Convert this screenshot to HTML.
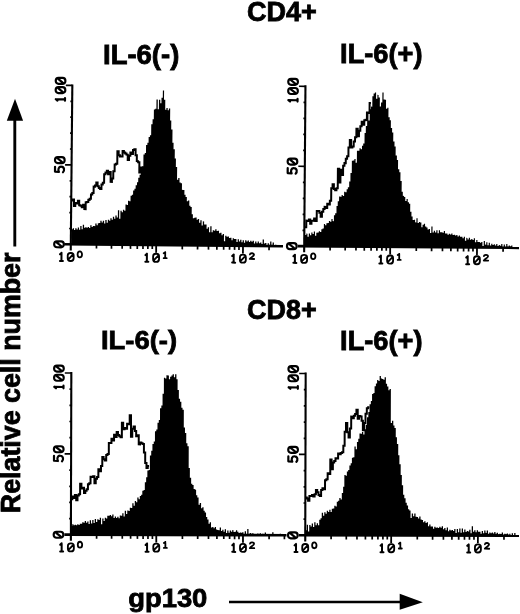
<!DOCTYPE html>
<html><head><meta charset="utf-8"><style>
html,body{margin:0;padding:0;background:#fff;}
body{width:520px;height:614px;overflow:hidden;position:relative;}
svg{position:absolute;left:0;top:0;filter:grayscale(1);}
.t{font-family:"Liberation Sans", sans-serif;font-weight:bold;font-size:26.4px;fill:#000;stroke:#000;stroke-width:0.8px;}
</style></head><body>
<svg width="520" height="614" viewBox="0 0 520 614">
<rect width="520" height="614" fill="#fff"/>
<text class="t" transform="translate(246.98,20.92) scale(1.0235,1.03)">CD4+</text>
<text class="t" transform="translate(103.03,63.87) scale(1.0409,1.015)">IL-6(-)</text>
<text class="t" transform="translate(340.09,62.91) scale(1.0308,1.015)">IL-6(+)</text>
<text class="t" transform="translate(247.01,318.85) scale(1.0208,1.03)">CD8+</text>
<text class="t" transform="translate(100.95,349.07) scale(1.0379,0.985)">IL-6(-)</text>
<text class="t" transform="translate(340.11,349.99) scale(1.0303,1.03)">IL-6(+)</text>
<text class="t" transform="translate(128.18,606.84) scale(1.0381,0.985)">gp130</text>
<text class="t" transform="translate(20.45,513.2) rotate(-90) scale(1.0156,1.044)">Relative cell number</text>
<line x1="14.8" y1="118" x2="14.8" y2="246.5" stroke="#000" stroke-width="2.9"/>
<path d="M15,98.7 L6.8,120.7 L23.1,120.7 Z" fill="#000"/>
<line x1="229" y1="602" x2="402" y2="602" stroke="#000" stroke-width="2.5"/>
<path d="M422.8,602.3 L399.7,593.8 L399.7,609.8 Z" fill="#000"/>
<g transform="rotate(0.55 70.8 244.4)"><path d="M71.4,244.4 L71.4,229.3 H72.6 V228.2 H73.9 V229.9 H75.1 V228.1 H76.4 V229.4 H77.6 V227.4 H78.9 V229.6 H80.1 V225.9 H81.4 V229.2 H82.6 V224.7 H83.9 V227.5 H85.1 V227.1 H86.4 V227.7 H87.6 V226.8 H88.9 V227.8 H90.1 V225.0 H91.4 V226.7 H92.6 V225.7 H93.9 V225.9 H95.1 V223.3 H96.4 V225.1 H97.6 V223.0 H98.9 V222.8 H100.1 V220.5 H101.4 V222.1 H102.6 V220.4 H103.9 V223.2 H105.1 V219.6 H106.4 V222.3 H107.6 V219.4 H108.9 V220.3 H110.1 V217.9 H111.4 V219.3 H112.6 V216.3 H113.9 V218.3 H115.1 V215.0 H116.4 V217.1 H117.6 V209.8 H118.9 V218.3 H120.1 V210.2 H121.4 V211.8 H122.6 V209.2 H123.9 V210.3 H125.1 V204.0 H126.4 V204.5 H127.6 V200.3 H128.9 V200.7 H130.1 V195.1 H131.4 V194.1 H132.6 V189.9 H133.9 V188.2 H135.1 V184.6 H136.4 V181.6 H137.6 V177.1 H138.9 V174.0 H140.1 V168.5 H141.4 V165.5 H142.6 V153.9 H143.9 V152.2 H145.1 V144.3 H146.4 V141.9 H147.6 V136.3 H148.9 V134.5 H150.1 V123.5 H151.4 V118.4 H152.6 V108.7 H153.9 V108.0 H155.1 V98.7 H156.4 V108.3 H157.6 V98.8 H158.9 V102.3 H160.1 V96.8 H161.4 V89.5 H162.6 V98.9 H163.9 V108.8 H165.1 V107.0 H166.4 V109.4 H167.6 V107.5 H168.9 V119.6 H170.1 V128.6 H171.4 V141.7 H172.6 V148.3 H173.9 V157.6 H175.1 V166.0 H176.4 V178.8 H177.6 V177.0 H178.9 V181.4 H180.1 V182.1 H181.4 V188.8 H182.6 V188.8 H183.9 V193.6 H185.1 V196.0 H186.4 V200.1 H187.6 V199.3 H188.9 V204.5 H190.1 V205.9 H191.4 V213.2 H192.6 V217.1 H193.9 V216.5 H195.1 V216.4 H196.4 V218.5 H197.6 V217.8 H198.9 V221.6 H200.1 V219.0 H201.4 V224.3 H202.6 V220.1 H203.9 V223.1 H205.1 V223.3 H206.4 V227.4 H207.6 V225.9 H208.9 V230.8 H210.1 V224.8 H211.4 V230.9 H212.6 V228.8 H213.9 V229.3 H215.1 V227.8 H216.4 V229.7 H217.6 V229.3 H218.9 V231.9 H220.1 V231.2 H221.4 V233.8 H222.6 V232.6 H223.9 V239.7 H225.1 V234.2 H226.4 V235.3 H227.6 V235.1 H228.9 V236.4 H230.1 V236.1 H231.4 V238.8 H232.6 V236.8 H233.9 V237.4 H235.1 V237.3 H236.4 V240.4 H237.6 V237.7 H238.9 V239.9 H240.1 V238.1 H241.4 V240.7 H242.6 V238.6 H243.9 V241.2 H245.1 V238.6 H246.4 V239.8 H247.6 V238.8 H248.9 V240.3 H250.1 V239.1 H251.4 V240.1 H252.6 V239.1 H253.9 V241.8 H255.1 V239.8 H256.4 V241.5 H257.6 V239.8 H258.9 V241.4 H260.1 V240.6 H261.4 V242.1 H262.6 V237.7 H263.9 V241.7 H265.1 V241.1 H266.4 V243.3 H267.6 V241.3 H268.9 V242.8 H270.1 V239.5 H271.4 V242.8 H272.6 V240.5 H273.9 V243.5 H275.1 V242.8 H276.4 V244.4 Z" fill="#000"/><path d="M71.1,200.5 H72.3 V199.5 H73.6 V205.9 H74.9 V202.9 H76.2 V203.3 H77.5 V200.7 H78.8 V205.1 H80.1 V205.7 H81.4 V207.1 H82.7 V204.6 H84.0 V209.0 H85.3 V202.0 H86.6 V201.8 H87.9 V199.7 H89.2 V198.6 H90.5 V194.3 H91.8 V192.8 H93.1 V186.4 H94.4 V185.2 H95.7 V182.2 H97.0 V185.9 H98.3 V187.7 H99.6 V188.7 H100.9 V184.1 H102.2 V182.5 H103.5 V174.0 H104.8 V172.3 H106.1 V170.4 H107.4 V173.9 H108.7 V171.5 H110.0 V181.5 H111.3 V178.1 H112.6 V170.8 H113.9 V164.1 H115.2 V163.3 H116.5 V150.9 H117.8 V154.7 H119.1 V156.1 H120.4 V156.0 H121.7 V150.4 H123.0 V151.9 H124.3 V152.9 H125.6 V154.1 H126.9 V159.5 H128.2 V155.2 H129.5 V151.9 H130.8 V153.5 H132.1 V149.5 H133.4 V148.7 H134.7 V154.6 H136.0 V160.5 H137.3 V161.7 H138.6 V171.8 H139.9 V166.9 H141.2 V170.5 H142.5" fill="none" stroke="#000" stroke-width="2.0"/><line x1="70.8" y1="84.4" x2="70.8" y2="250.4" stroke="#000" stroke-width="2.1"/><line x1="64.3" y1="244.25" x2="283" y2="244.25" stroke="#000" stroke-width="2.6"/><line x1="69.0" y1="228.5" x2="70.8" y2="228.5" stroke="#000" stroke-width="1.7"/><line x1="69.0" y1="212.6" x2="70.8" y2="212.6" stroke="#000" stroke-width="1.7"/><line x1="69.0" y1="196.7" x2="70.8" y2="196.7" stroke="#000" stroke-width="1.7"/><line x1="69.0" y1="180.8" x2="70.8" y2="180.8" stroke="#000" stroke-width="1.7"/><line x1="64.3" y1="164.9" x2="70.8" y2="164.9" stroke="#000" stroke-width="1.7"/><line x1="69.0" y1="149.0" x2="70.8" y2="149.0" stroke="#000" stroke-width="1.7"/><line x1="69.0" y1="133.1" x2="70.8" y2="133.1" stroke="#000" stroke-width="1.7"/><line x1="69.0" y1="117.2" x2="70.8" y2="117.2" stroke="#000" stroke-width="1.7"/><line x1="69.0" y1="101.3" x2="70.8" y2="101.3" stroke="#000" stroke-width="1.7"/><line x1="64.3" y1="85.4" x2="70.8" y2="85.4" stroke="#000" stroke-width="1.7"/><line x1="96.5" y1="244.4" x2="96.5" y2="248.3" stroke="#000" stroke-width="1.7"/><line x1="111.5" y1="244.4" x2="111.5" y2="248.3" stroke="#000" stroke-width="1.7"/><line x1="122.2" y1="244.4" x2="122.2" y2="248.3" stroke="#000" stroke-width="1.7"/><line x1="130.5" y1="244.4" x2="130.5" y2="248.3" stroke="#000" stroke-width="1.7"/><line x1="137.3" y1="244.4" x2="137.3" y2="248.3" stroke="#000" stroke-width="1.7"/><line x1="143.0" y1="244.4" x2="143.0" y2="248.3" stroke="#000" stroke-width="1.7"/><line x1="147.9" y1="244.4" x2="147.9" y2="248.3" stroke="#000" stroke-width="1.7"/><line x1="152.3" y1="244.4" x2="152.3" y2="248.3" stroke="#000" stroke-width="1.7"/><line x1="156.2" y1="244.4" x2="156.2" y2="251.9" stroke="#000" stroke-width="1.8"/><line x1="182.3" y1="244.4" x2="182.3" y2="248.3" stroke="#000" stroke-width="1.7"/><line x1="197.6" y1="244.4" x2="197.6" y2="248.3" stroke="#000" stroke-width="1.7"/><line x1="208.5" y1="244.4" x2="208.5" y2="248.3" stroke="#000" stroke-width="1.7"/><line x1="216.9" y1="244.4" x2="216.9" y2="248.3" stroke="#000" stroke-width="1.7"/><line x1="223.7" y1="244.4" x2="223.7" y2="248.3" stroke="#000" stroke-width="1.7"/><line x1="229.6" y1="244.4" x2="229.6" y2="248.3" stroke="#000" stroke-width="1.7"/><line x1="234.6" y1="244.4" x2="234.6" y2="248.3" stroke="#000" stroke-width="1.7"/><line x1="239.0" y1="244.4" x2="239.0" y2="248.3" stroke="#000" stroke-width="1.7"/><line x1="243.0" y1="244.4" x2="243.0" y2="251.9" stroke="#000" stroke-width="1.8"/><line x1="269.1" y1="244.4" x2="269.1" y2="248.3" stroke="#000" stroke-width="1.7"/><g fill="none" stroke="#000" stroke-linecap="round" stroke-linejoin="round"><path transform="translate(59.00,99.40) rotate(-90) translate(-1.30,-4.60)" d="M1.30,0 L1.30,9.20 M0.00,9.20 L2.60,9.20 M1.30,0 L0.00,1.66" stroke-width="2.2"/><path transform="translate(59.00,90.20) rotate(-90) translate(-3.00,-4.80)" d="M2.76,0 L3.24,0 C4.76,0 6.00,1.24 6.00,2.76 L6.00,6.84 C6.00,8.36 4.76,9.60 3.24,9.60 L2.76,9.60 C1.24,9.60 0,8.36 0,6.84 L0,2.76 C0,1.24 1.24,0 2.76,0 Z M4.68,2.69 L1.32,6.91" stroke-width="2.2"/><path transform="translate(59.00,81.00) rotate(-90) translate(-3.00,-4.80)" d="M2.76,0 L3.24,0 C4.76,0 6.00,1.24 6.00,2.76 L6.00,6.84 C6.00,8.36 4.76,9.60 3.24,9.60 L2.76,9.60 C1.24,9.60 0,8.36 0,6.84 L0,2.76 C0,1.24 1.24,0 2.76,0 Z M4.68,2.69 L1.32,6.91" stroke-width="2.2"/><path transform="translate(59.00,169.50) rotate(-90) translate(-2.85,-4.70)" d="M5.42,0 L0.57,0 L0.29,3.95 C2.56,2.63 5.81,3.57 5.59,6.39 C5.42,9.59 1.43,9.59 0.00,7.99" stroke-width="2.2"/><path transform="translate(59.00,160.30) rotate(-90) translate(-3.00,-4.80)" d="M2.76,0 L3.24,0 C4.76,0 6.00,1.24 6.00,2.76 L6.00,6.84 C6.00,8.36 4.76,9.60 3.24,9.60 L2.76,9.60 C1.24,9.60 0,8.36 0,6.84 L0,2.76 C0,1.24 1.24,0 2.76,0 Z M4.68,2.69 L1.32,6.91" stroke-width="2.2"/><path transform="translate(59.00,244.40) rotate(-90) translate(-3.00,-4.80)" d="M2.76,0 L3.24,0 C4.76,0 6.00,1.24 6.00,2.76 L6.00,6.84 C6.00,8.36 4.76,9.60 3.24,9.60 L2.76,9.60 C1.24,9.60 0,8.36 0,6.84 L0,2.76 C0,1.24 1.24,0 2.76,0 Z M4.68,2.69 L1.32,6.91" stroke-width="2.2"/><path transform="translate(61.60,257.00) translate(-1.50,-4.05)" d="M1.50,0 L1.50,8.10 M0.00,8.10 L3.00,8.10 M1.50,0 L0.00,1.46" stroke-width="2.0"/><path transform="translate(70.80,257.00) translate(-2.97,-4.03)" d="M2.74,0 L3.21,0 C4.72,0 5.95,1.23 5.95,2.74 L5.95,5.31 C5.95,6.82 4.72,8.05 3.21,8.05 L2.74,8.05 C1.23,8.05 0,6.82 0,5.31 L0,2.74 C0,1.23 1.23,0 2.74,0 Z M4.64,2.25 L1.31,5.80" stroke-width="1.85"/><path transform="translate(79.90,254.30) translate(-2.20,-2.95)" d="M0.00,2.95 a2.20,2.95 0 1,0 4.40,0 a2.20,2.95 0 1,0 -4.40,0 Z " stroke-width="1.8"/><path transform="translate(147.00,257.00) translate(-1.50,-4.05)" d="M1.50,0 L1.50,8.10 M0.00,8.10 L3.00,8.10 M1.50,0 L0.00,1.46" stroke-width="2.0"/><path transform="translate(156.20,257.00) translate(-2.97,-4.03)" d="M2.74,0 L3.21,0 C4.72,0 5.95,1.23 5.95,2.74 L5.95,5.31 C5.95,6.82 4.72,8.05 3.21,8.05 L2.74,8.05 C1.23,8.05 0,6.82 0,5.31 L0,2.74 C0,1.23 1.23,0 2.74,0 Z M4.64,2.25 L1.31,5.80" stroke-width="1.85"/><path transform="translate(165.30,254.30) translate(-1.50,-2.95)" d="M1.50,0 L1.50,5.90 M0.00,5.90 L3.00,5.90 M1.50,0 L0.00,1.06" stroke-width="1.8"/><path transform="translate(233.80,257.00) translate(-1.50,-4.05)" d="M1.50,0 L1.50,8.10 M0.00,8.10 L3.00,8.10 M1.50,0 L0.00,1.46" stroke-width="2.0"/><path transform="translate(243.00,257.00) translate(-2.97,-4.03)" d="M2.74,0 L3.21,0 C4.72,0 5.95,1.23 5.95,2.74 L5.95,5.31 C5.95,6.82 4.72,8.05 3.21,8.05 L2.74,8.05 C1.23,8.05 0,6.82 0,5.31 L0,2.74 C0,1.23 1.23,0 2.74,0 Z M4.64,2.25 L1.31,5.80" stroke-width="1.85"/><path transform="translate(252.10,254.30) translate(-2.20,-2.95)" d="M0.09,1.48 C0.22,-0.30 4.31,-0.30 4.18,1.77 C4.05,3.25 0.88,4.13 0.00,5.90 L4.40,5.90" stroke-width="1.8"/></g></g>
<g transform="rotate(0.45 304.2 246.3)"><path d="M304.9,246.3 L304.9,235.1 H306.2 V233.6 H307.4 V236.8 H308.7 V233.5 H309.9 V235.1 H311.2 V232.4 H312.4 V233.9 H313.7 V231.3 H314.9 V235.7 H316.2 V232.6 H317.4 V232.3 H318.7 V231.2 H319.9 V231.9 H321.2 V229.1 H322.4 V228.4 H323.7 V223.9 H324.9 V225.1 H326.2 V223.1 H327.4 V222.9 H328.7 V220.7 H329.9 V221.5 H331.2 V218.9 H332.4 V220.9 H333.7 V215.0 H334.9 V212.9 H336.2 V205.8 H337.4 V200.9 H338.7 V196.3 H339.9 V196.5 H341.2 V194.6 H342.4 V195.8 H343.7 V191.5 H344.9 V192.0 H346.2 V188.8 H347.4 V187.0 H348.7 V181.1 H349.9 V172.6 H351.2 V160.3 H352.4 V160.2 H353.7 V158.7 H354.9 V162.3 H356.2 V150.3 H357.4 V150.3 H358.7 V147.8 H359.9 V148.7 H361.2 V145.2 H362.4 V143.0 H363.7 V132.5 H364.9 V125.6 H366.2 V112.8 H367.4 V120.0 H368.7 V108.7 H369.9 V106.1 H371.2 V95.6 H372.4 V93.0 H373.7 V92.0 H374.9 V98.1 H376.2 V94.3 H377.4 V96.9 H378.7 V106.0 H379.9 V102.0 H381.2 V91.9 H382.4 V98.8 H383.7 V99.0 H384.9 V108.0 H386.2 V107.1 H387.4 V116.7 H388.7 V119.5 H389.9 V127.4 H391.2 V131.7 H392.4 V140.8 H393.7 V145.7 H394.9 V154.7 H396.2 V159.2 H397.4 V168.5 H398.7 V171.6 H399.9 V180.3 H401.2 V191.1 H402.4 V195.1 H403.7 V196.3 H404.9 V200.3 H406.2 V198.1 H407.4 V201.5 H408.7 V202.9 H409.9 V210.8 H411.2 V215.6 H412.4 V219.2 H413.7 V219.0 H414.9 V221.5 H416.2 V217.4 H417.4 V222.2 H418.7 V221.0 H419.9 V221.7 H421.2 V226.4 H422.4 V223.8 H423.7 V222.9 H424.9 V225.6 H426.2 V226.5 H427.4 V228.6 H428.7 V228.1 H429.9 V232.1 H431.2 V225.4 H432.4 V231.6 H433.7 V229.8 H434.9 V231.5 H436.2 V229.3 H437.4 V232.3 H438.7 V229.1 H439.9 V231.2 H441.2 V231.1 H442.4 V231.6 H443.7 V230.0 H444.9 V232.5 H446.2 V232.3 H447.4 V233.6 H448.7 V232.7 H449.9 V233.3 H451.2 V232.4 H452.4 V233.9 H453.7 V233.6 H454.9 V234.2 H456.2 V233.9 H457.4 V235.4 H458.7 V234.2 H459.9 V235.5 H461.2 V235.5 H462.4 V237.1 H463.7 V235.6 H464.9 V239.6 H466.2 V236.6 H467.4 V238.3 H468.7 V236.5 H469.9 V238.4 H471.2 V237.6 H472.4 V238.7 H473.7 V236.8 H474.9 V240.8 H476.2 V238.7 H477.4 V240.6 H478.7 V240.6 H479.9 V241.4 H481.2 V240.6 H482.4 V244.5 H483.7 V239.7 H484.9 V243.2 H486.2 V240.9 H487.4 V243.9 H488.7 V241.3 H489.9 V244.0 H491.2 V242.2 H492.4 V243.5 H493.7 V242.7 H494.9 V244.0 H496.2 V242.6 H497.4 V244.5 H498.7 V243.5 H499.9 V244.1 H501.2 V242.4 H502.4 V246.3 H503.7 V243.0 H504.9 V246.3 H506.2 V242.4 H507.4 V245.2 H508.7 V243.9 H509.9 V244.7 H511.2 V243.9 H512.4 V246.2 H513.7 V246.3 H514.9 V245.3 H516.2 V246.3 Z" fill="#000"/><path d="M304.8,227.2 H306.1 V220.6 H307.4 V220.9 H308.7 V219.4 H310.0 V223.8 H311.3 V220.8 H312.6 V220.8 H313.9 V218.4 H315.2 V220.8 H316.5 V210.8 H317.8 V210.9 H319.1 V212.7 H320.4 V216.7 H321.7 V211.5 H323.0 V208.9 H324.3 V206.7 H325.6 V207.9 H326.9 V203.5 H328.2 V204.2 H329.5 V200.5 H330.8 V188.1 H332.1 V184.1 H333.4 V188.8 H334.7 V189.9 H336.0 V187.9 H337.3 V168.5 H338.6 V182.1 H339.9 V169.5 H341.2 V174.6 H342.5 V165.4 H343.8 V162.8 H345.1 V158.5 H346.4 V155.9 H347.7 V147.1 H349.0 V139.7 H350.3 V147.2 H351.6 V146.2 H352.9 V141.2 H354.2 V136.9 H355.5 V128.4 H356.8 V135.9 H358.1 V130.2 H359.4 V125.9 H360.7 V121.2 H362.0 V124.2 H363.3 V119.7 H364.6 V119.4 H365.9 V112.1 H367.2 V112.5 H368.5 V102.6 H369.8" fill="none" stroke="#000" stroke-width="2.0"/><line x1="304.2" y1="85.30000000000001" x2="304.2" y2="252.3" stroke="#000" stroke-width="2.1"/><line x1="297.7" y1="246.15" x2="519" y2="246.15" stroke="#000" stroke-width="2.6"/><line x1="302.4" y1="230.3" x2="304.2" y2="230.3" stroke="#000" stroke-width="1.7"/><line x1="302.4" y1="214.3" x2="304.2" y2="214.3" stroke="#000" stroke-width="1.7"/><line x1="302.4" y1="198.3" x2="304.2" y2="198.3" stroke="#000" stroke-width="1.7"/><line x1="302.4" y1="182.3" x2="304.2" y2="182.3" stroke="#000" stroke-width="1.7"/><line x1="297.7" y1="166.3" x2="304.2" y2="166.3" stroke="#000" stroke-width="1.7"/><line x1="302.4" y1="150.3" x2="304.2" y2="150.3" stroke="#000" stroke-width="1.7"/><line x1="302.4" y1="134.3" x2="304.2" y2="134.3" stroke="#000" stroke-width="1.7"/><line x1="302.4" y1="118.3" x2="304.2" y2="118.3" stroke="#000" stroke-width="1.7"/><line x1="302.4" y1="102.3" x2="304.2" y2="102.3" stroke="#000" stroke-width="1.7"/><line x1="297.7" y1="86.3" x2="304.2" y2="86.3" stroke="#000" stroke-width="1.7"/><line x1="330.1" y1="246.3" x2="330.1" y2="250.20000000000002" stroke="#000" stroke-width="1.7"/><line x1="345.2" y1="246.3" x2="345.2" y2="250.20000000000002" stroke="#000" stroke-width="1.7"/><line x1="356.0" y1="246.3" x2="356.0" y2="250.20000000000002" stroke="#000" stroke-width="1.7"/><line x1="364.3" y1="246.3" x2="364.3" y2="250.20000000000002" stroke="#000" stroke-width="1.7"/><line x1="371.1" y1="246.3" x2="371.1" y2="250.20000000000002" stroke="#000" stroke-width="1.7"/><line x1="376.9" y1="246.3" x2="376.9" y2="250.20000000000002" stroke="#000" stroke-width="1.7"/><line x1="381.9" y1="246.3" x2="381.9" y2="250.20000000000002" stroke="#000" stroke-width="1.7"/><line x1="386.3" y1="246.3" x2="386.3" y2="250.20000000000002" stroke="#000" stroke-width="1.7"/><line x1="390.2" y1="246.3" x2="390.2" y2="253.8" stroke="#000" stroke-width="1.8"/><line x1="416.3" y1="246.3" x2="416.3" y2="250.20000000000002" stroke="#000" stroke-width="1.7"/><line x1="431.6" y1="246.3" x2="431.6" y2="250.20000000000002" stroke="#000" stroke-width="1.7"/><line x1="442.5" y1="246.3" x2="442.5" y2="250.20000000000002" stroke="#000" stroke-width="1.7"/><line x1="450.9" y1="246.3" x2="450.9" y2="250.20000000000002" stroke="#000" stroke-width="1.7"/><line x1="457.7" y1="246.3" x2="457.7" y2="250.20000000000002" stroke="#000" stroke-width="1.7"/><line x1="463.6" y1="246.3" x2="463.6" y2="250.20000000000002" stroke="#000" stroke-width="1.7"/><line x1="468.6" y1="246.3" x2="468.6" y2="250.20000000000002" stroke="#000" stroke-width="1.7"/><line x1="473.0" y1="246.3" x2="473.0" y2="250.20000000000002" stroke="#000" stroke-width="1.7"/><line x1="477.0" y1="246.3" x2="477.0" y2="253.8" stroke="#000" stroke-width="1.8"/><line x1="503.1" y1="246.3" x2="503.1" y2="250.20000000000002" stroke="#000" stroke-width="1.7"/><g fill="none" stroke="#000" stroke-linecap="round" stroke-linejoin="round"><path transform="translate(291.80,100.30) rotate(-90) translate(-1.30,-4.60)" d="M1.30,0 L1.30,9.20 M0.00,9.20 L2.60,9.20 M1.30,0 L0.00,1.66" stroke-width="2.2"/><path transform="translate(291.80,91.10) rotate(-90) translate(-3.00,-4.80)" d="M2.76,0 L3.24,0 C4.76,0 6.00,1.24 6.00,2.76 L6.00,6.84 C6.00,8.36 4.76,9.60 3.24,9.60 L2.76,9.60 C1.24,9.60 0,8.36 0,6.84 L0,2.76 C0,1.24 1.24,0 2.76,0 Z M4.68,2.69 L1.32,6.91" stroke-width="2.2"/><path transform="translate(291.80,81.90) rotate(-90) translate(-3.00,-4.80)" d="M2.76,0 L3.24,0 C4.76,0 6.00,1.24 6.00,2.76 L6.00,6.84 C6.00,8.36 4.76,9.60 3.24,9.60 L2.76,9.60 C1.24,9.60 0,8.36 0,6.84 L0,2.76 C0,1.24 1.24,0 2.76,0 Z M4.68,2.69 L1.32,6.91" stroke-width="2.2"/><path transform="translate(291.80,170.90) rotate(-90) translate(-2.85,-4.70)" d="M5.42,0 L0.57,0 L0.29,3.95 C2.56,2.63 5.81,3.57 5.59,6.39 C5.42,9.59 1.43,9.59 0.00,7.99" stroke-width="2.2"/><path transform="translate(291.80,161.70) rotate(-90) translate(-3.00,-4.80)" d="M2.76,0 L3.24,0 C4.76,0 6.00,1.24 6.00,2.76 L6.00,6.84 C6.00,8.36 4.76,9.60 3.24,9.60 L2.76,9.60 C1.24,9.60 0,8.36 0,6.84 L0,2.76 C0,1.24 1.24,0 2.76,0 Z M4.68,2.69 L1.32,6.91" stroke-width="2.2"/><path transform="translate(291.80,246.30) rotate(-90) translate(-3.00,-4.80)" d="M2.76,0 L3.24,0 C4.76,0 6.00,1.24 6.00,2.76 L6.00,6.84 C6.00,8.36 4.76,9.60 3.24,9.60 L2.76,9.60 C1.24,9.60 0,8.36 0,6.84 L0,2.76 C0,1.24 1.24,0 2.76,0 Z M4.68,2.69 L1.32,6.91" stroke-width="2.2"/><path transform="translate(295.00,258.90) translate(-1.50,-4.05)" d="M1.50,0 L1.50,8.10 M0.00,8.10 L3.00,8.10 M1.50,0 L0.00,1.46" stroke-width="2.0"/><path transform="translate(304.20,258.90) translate(-2.97,-4.03)" d="M2.74,0 L3.21,0 C4.72,0 5.95,1.23 5.95,2.74 L5.95,5.31 C5.95,6.82 4.72,8.05 3.21,8.05 L2.74,8.05 C1.23,8.05 0,6.82 0,5.31 L0,2.74 C0,1.23 1.23,0 2.74,0 Z M4.64,2.25 L1.31,5.80" stroke-width="1.85"/><path transform="translate(313.30,256.20) translate(-2.20,-2.95)" d="M0.00,2.95 a2.20,2.95 0 1,0 4.40,0 a2.20,2.95 0 1,0 -4.40,0 Z " stroke-width="1.8"/><path transform="translate(381.00,258.90) translate(-1.50,-4.05)" d="M1.50,0 L1.50,8.10 M0.00,8.10 L3.00,8.10 M1.50,0 L0.00,1.46" stroke-width="2.0"/><path transform="translate(390.20,258.90) translate(-2.97,-4.03)" d="M2.74,0 L3.21,0 C4.72,0 5.95,1.23 5.95,2.74 L5.95,5.31 C5.95,6.82 4.72,8.05 3.21,8.05 L2.74,8.05 C1.23,8.05 0,6.82 0,5.31 L0,2.74 C0,1.23 1.23,0 2.74,0 Z M4.64,2.25 L1.31,5.80" stroke-width="1.85"/><path transform="translate(399.30,256.20) translate(-1.50,-2.95)" d="M1.50,0 L1.50,5.90 M0.00,5.90 L3.00,5.90 M1.50,0 L0.00,1.06" stroke-width="1.8"/><path transform="translate(467.80,258.90) translate(-1.50,-4.05)" d="M1.50,0 L1.50,8.10 M0.00,8.10 L3.00,8.10 M1.50,0 L0.00,1.46" stroke-width="2.0"/><path transform="translate(477.00,258.90) translate(-2.97,-4.03)" d="M2.74,0 L3.21,0 C4.72,0 5.95,1.23 5.95,2.74 L5.95,5.31 C5.95,6.82 4.72,8.05 3.21,8.05 L2.74,8.05 C1.23,8.05 0,6.82 0,5.31 L0,2.74 C0,1.23 1.23,0 2.74,0 Z M4.64,2.25 L1.31,5.80" stroke-width="1.85"/><path transform="translate(486.10,256.20) translate(-2.20,-2.95)" d="M0.09,1.48 C0.22,-0.30 4.31,-0.30 4.18,1.77 C4.05,3.25 0.88,4.13 0.00,5.90 L4.40,5.90" stroke-width="1.8"/></g></g>
<g transform="rotate(0.15 70.9 534.8)"><path d="M71.0,534.8 L71.0,526.0 H72.2 V524.2 H73.5 V525.2 H74.7 V524.8 H76.0 V525.2 H77.2 V524.3 H78.5 V525.1 H79.7 V523.7 H81.0 V523.6 H82.2 V522.2 H83.5 V522.7 H84.7 V521.0 H86.0 V522.8 H87.2 V521.4 H88.5 V523.9 H89.7 V520.2 H91.0 V523.4 H92.2 V520.0 H93.5 V522.9 H94.7 V519.0 H96.0 V521.9 H97.2 V519.3 H98.5 V520.0 H99.7 V517.6 H101.0 V524.2 H102.2 V518.5 H103.5 V520.8 H104.7 V517.7 H106.0 V518.5 H107.2 V515.6 H108.5 V515.6 H109.7 V515.0 H111.0 V516.1 H112.2 V514.3 H113.5 V518.0 H114.7 V516.4 H116.0 V517.8 H117.2 V516.6 H118.5 V518.2 H119.7 V515.4 H121.0 V515.5 H122.2 V513.0 H123.5 V516.3 H124.7 V510.6 H126.0 V513.9 H127.2 V510.4 H128.5 V510.8 H129.7 V507.7 H131.0 V507.9 H132.2 V503.2 H133.5 V505.5 H134.7 V500.9 H136.0 V502.0 H137.2 V497.3 H138.5 V499.0 H139.7 V495.8 H141.0 V494.5 H142.2 V490.6 H143.5 V489.8 H144.7 V482.0 H146.0 V477.0 H147.2 V470.2 H148.5 V469.8 H149.7 V455.2 H151.0 V450.6 H152.2 V443.8 H153.5 V441.2 H154.7 V431.0 H156.0 V429.3 H157.2 V422.5 H158.5 V419.8 H159.7 V408.0 H161.0 V405.2 H162.2 V393.5 H163.5 V377.6 H164.7 V378.3 H166.0 V374.9 H167.2 V375.2 H168.5 V378.9 H169.7 V376.4 H171.0 V375.3 H172.2 V373.9 H173.5 V377.1 H174.7 V373.9 H176.0 V378.9 H177.2 V389.6 H178.5 V398.4 H179.7 V401.5 H181.0 V407.4 H182.2 V409.5 H183.5 V427.2 H184.7 V432.6 H186.0 V442.9 H187.2 V446.0 H188.5 V467.6 H189.7 V477.5 H191.0 V483.5 H192.2 V484.6 H193.5 V488.7 H194.7 V489.3 H196.0 V494.9 H197.2 V497.1 H198.5 V504.3 H199.7 V502.7 H201.0 V508.0 H202.2 V506.9 H203.5 V510.4 H204.7 V512.1 H206.0 V516.7 H207.2 V519.2 H208.5 V523.3 H209.7 V521.9 H211.0 V527.1 H212.2 V526.7 H213.5 V527.9 H214.7 V526.7 H216.0 V529.2 H217.2 V529.5 H218.5 V529.8 H219.7 V527.0 H221.0 V530.7 H222.2 V529.3 H223.5 V531.4 H224.7 V528.9 H226.0 V532.5 H227.2 V530.1 H228.5 V532.4 H229.7 V530.2 H231.0 V531.4 H232.2 V529.7 H233.5 V531.6 H234.7 V531.4 H236.0 V529.9 H237.2 V531.4 H238.5 V532.5 H239.7 V532.1 H241.0 V532.4 H242.2 V531.8 H243.5 V533.8 H244.7 V530.8 H246.0 V533.5 H247.2 V528.6 H248.5 V533.8 H249.7 V532.6 H251.0 V533.4 H252.2 V532.8 H253.5 V534.5 H254.7 V533.6 H256.0 V534.4 H257.2 V533.1 H258.5 V534.8 H259.7 V532.7 H261.0 V534.8 H262.2 V533.3 H263.5 V534.5 H264.7 V532.1 H266.0 V534.8 H267.2 V533.6 H268.5 V534.8 H269.7 V533.8 H271.0 V534.8 H272.2 V531.6 H273.5 V534.8 H274.7 V533.9 H276.0 V534.8 H277.2 V533.9 H278.5 V534.4 H279.7 V533.1 H281.0 V534.8 H282.2 V533.8 H283.5 V534.8 Z" fill="#000"/><path d="M70.9,499.2 H72.2 V496.4 H73.5 V498.1 H74.8 V495.0 H76.1 V500.3 H77.4 V495.6 H78.7 V494.2 H80.0 V483.8 H81.3 V488.4 H82.6 V487.8 H83.9 V493.0 H85.2 V490.8 H86.5 V489.3 H87.8 V484.1 H89.1 V483.1 H90.4 V476.7 H91.7 V476.9 H93.0 V476.2 H94.3 V483.1 H95.6 V478.7 H96.9 V477.0 H98.2 V469.1 H99.5 V471.1 H100.8 V466.0 H102.1 V456.9 H103.4 V459.2 H104.7 V460.4 H106.0 V454.9 H107.3 V453.8 H108.6 V442.8 H109.9 V443.0 H111.2 V438.6 H112.5 V440.5 H113.8 V434.7 H115.1 V436.9 H116.4 V431.8 H117.7 V434.8 H119.0 V436.1 H120.3 V437.2 H121.6 V422.7 H122.9 V429.1 H124.2 V427.9 H125.5 V428.7 H126.8 V423.7 H128.1 V424.1 H129.4 V415.2 H130.7 V436.6 H132.0 V428.7 H133.3 V426.4 H134.6 V430.9 H135.9 V436.1 H137.2 V435.1 H138.5 V444.2 H139.8 V442.3 H141.1 V443.1 H142.4 V443.8 H143.7 V452.3 H145.0 V462.9 H146.3 V467.9 H147.6 V465.9 H148.9" fill="none" stroke="#000" stroke-width="2.0"/><line x1="70.9" y1="371.99999999999994" x2="70.9" y2="540.8" stroke="#000" stroke-width="2.1"/><line x1="64.4" y1="534.65" x2="286.5" y2="534.65" stroke="#000" stroke-width="2.6"/><line x1="69.10000000000001" y1="518.6" x2="70.9" y2="518.6" stroke="#000" stroke-width="1.7"/><line x1="69.10000000000001" y1="502.4" x2="70.9" y2="502.4" stroke="#000" stroke-width="1.7"/><line x1="69.10000000000001" y1="486.3" x2="70.9" y2="486.3" stroke="#000" stroke-width="1.7"/><line x1="69.10000000000001" y1="470.1" x2="70.9" y2="470.1" stroke="#000" stroke-width="1.7"/><line x1="64.4" y1="453.9" x2="70.9" y2="453.9" stroke="#000" stroke-width="1.7"/><line x1="69.10000000000001" y1="437.7" x2="70.9" y2="437.7" stroke="#000" stroke-width="1.7"/><line x1="69.10000000000001" y1="421.5" x2="70.9" y2="421.5" stroke="#000" stroke-width="1.7"/><line x1="69.10000000000001" y1="405.4" x2="70.9" y2="405.4" stroke="#000" stroke-width="1.7"/><line x1="69.10000000000001" y1="389.2" x2="70.9" y2="389.2" stroke="#000" stroke-width="1.7"/><line x1="64.4" y1="373.0" x2="70.9" y2="373.0" stroke="#000" stroke-width="1.7"/><line x1="96.6" y1="534.8" x2="96.6" y2="538.6999999999999" stroke="#000" stroke-width="1.7"/><line x1="111.6" y1="534.8" x2="111.6" y2="538.6999999999999" stroke="#000" stroke-width="1.7"/><line x1="122.3" y1="534.8" x2="122.3" y2="538.6999999999999" stroke="#000" stroke-width="1.7"/><line x1="130.6" y1="534.8" x2="130.6" y2="538.6999999999999" stroke="#000" stroke-width="1.7"/><line x1="137.4" y1="534.8" x2="137.4" y2="538.6999999999999" stroke="#000" stroke-width="1.7"/><line x1="143.1" y1="534.8" x2="143.1" y2="538.6999999999999" stroke="#000" stroke-width="1.7"/><line x1="148.0" y1="534.8" x2="148.0" y2="538.6999999999999" stroke="#000" stroke-width="1.7"/><line x1="152.4" y1="534.8" x2="152.4" y2="538.6999999999999" stroke="#000" stroke-width="1.7"/><line x1="156.3" y1="534.8" x2="156.3" y2="542.3" stroke="#000" stroke-width="1.8"/><line x1="182.4" y1="534.8" x2="182.4" y2="538.6999999999999" stroke="#000" stroke-width="1.7"/><line x1="197.7" y1="534.8" x2="197.7" y2="538.6999999999999" stroke="#000" stroke-width="1.7"/><line x1="208.5" y1="534.8" x2="208.5" y2="538.6999999999999" stroke="#000" stroke-width="1.7"/><line x1="216.9" y1="534.8" x2="216.9" y2="538.6999999999999" stroke="#000" stroke-width="1.7"/><line x1="223.8" y1="534.8" x2="223.8" y2="538.6999999999999" stroke="#000" stroke-width="1.7"/><line x1="229.6" y1="534.8" x2="229.6" y2="538.6999999999999" stroke="#000" stroke-width="1.7"/><line x1="234.6" y1="534.8" x2="234.6" y2="538.6999999999999" stroke="#000" stroke-width="1.7"/><line x1="239.0" y1="534.8" x2="239.0" y2="538.6999999999999" stroke="#000" stroke-width="1.7"/><line x1="243.0" y1="534.8" x2="243.0" y2="542.3" stroke="#000" stroke-width="1.8"/><line x1="269.1" y1="534.8" x2="269.1" y2="538.6999999999999" stroke="#000" stroke-width="1.7"/><line x1="284.4" y1="534.8" x2="284.4" y2="538.6999999999999" stroke="#000" stroke-width="1.7"/><g fill="none" stroke="#000" stroke-linecap="round" stroke-linejoin="round"><path transform="translate(58.50,387.00) rotate(-90) translate(-1.30,-4.60)" d="M1.30,0 L1.30,9.20 M0.00,9.20 L2.60,9.20 M1.30,0 L0.00,1.66" stroke-width="2.2"/><path transform="translate(58.50,377.80) rotate(-90) translate(-3.00,-4.80)" d="M2.76,0 L3.24,0 C4.76,0 6.00,1.24 6.00,2.76 L6.00,6.84 C6.00,8.36 4.76,9.60 3.24,9.60 L2.76,9.60 C1.24,9.60 0,8.36 0,6.84 L0,2.76 C0,1.24 1.24,0 2.76,0 Z M4.68,2.69 L1.32,6.91" stroke-width="2.2"/><path transform="translate(58.50,368.60) rotate(-90) translate(-3.00,-4.80)" d="M2.76,0 L3.24,0 C4.76,0 6.00,1.24 6.00,2.76 L6.00,6.84 C6.00,8.36 4.76,9.60 3.24,9.60 L2.76,9.60 C1.24,9.60 0,8.36 0,6.84 L0,2.76 C0,1.24 1.24,0 2.76,0 Z M4.68,2.69 L1.32,6.91" stroke-width="2.2"/><path transform="translate(58.50,458.50) rotate(-90) translate(-2.85,-4.70)" d="M5.42,0 L0.57,0 L0.29,3.95 C2.56,2.63 5.81,3.57 5.59,6.39 C5.42,9.59 1.43,9.59 0.00,7.99" stroke-width="2.2"/><path transform="translate(58.50,449.30) rotate(-90) translate(-3.00,-4.80)" d="M2.76,0 L3.24,0 C4.76,0 6.00,1.24 6.00,2.76 L6.00,6.84 C6.00,8.36 4.76,9.60 3.24,9.60 L2.76,9.60 C1.24,9.60 0,8.36 0,6.84 L0,2.76 C0,1.24 1.24,0 2.76,0 Z M4.68,2.69 L1.32,6.91" stroke-width="2.2"/><path transform="translate(58.50,534.80) rotate(-90) translate(-3.00,-4.80)" d="M2.76,0 L3.24,0 C4.76,0 6.00,1.24 6.00,2.76 L6.00,6.84 C6.00,8.36 4.76,9.60 3.24,9.60 L2.76,9.60 C1.24,9.60 0,8.36 0,6.84 L0,2.76 C0,1.24 1.24,0 2.76,0 Z M4.68,2.69 L1.32,6.91" stroke-width="2.2"/><path transform="translate(61.70,547.40) translate(-1.50,-4.05)" d="M1.50,0 L1.50,8.10 M0.00,8.10 L3.00,8.10 M1.50,0 L0.00,1.46" stroke-width="2.0"/><path transform="translate(70.90,547.40) translate(-2.97,-4.03)" d="M2.74,0 L3.21,0 C4.72,0 5.95,1.23 5.95,2.74 L5.95,5.31 C5.95,6.82 4.72,8.05 3.21,8.05 L2.74,8.05 C1.23,8.05 0,6.82 0,5.31 L0,2.74 C0,1.23 1.23,0 2.74,0 Z M4.64,2.25 L1.31,5.80" stroke-width="1.85"/><path transform="translate(80.00,544.70) translate(-2.20,-2.95)" d="M0.00,2.95 a2.20,2.95 0 1,0 4.40,0 a2.20,2.95 0 1,0 -4.40,0 Z " stroke-width="1.8"/><path transform="translate(147.10,547.40) translate(-1.50,-4.05)" d="M1.50,0 L1.50,8.10 M0.00,8.10 L3.00,8.10 M1.50,0 L0.00,1.46" stroke-width="2.0"/><path transform="translate(156.30,547.40) translate(-2.97,-4.03)" d="M2.74,0 L3.21,0 C4.72,0 5.95,1.23 5.95,2.74 L5.95,5.31 C5.95,6.82 4.72,8.05 3.21,8.05 L2.74,8.05 C1.23,8.05 0,6.82 0,5.31 L0,2.74 C0,1.23 1.23,0 2.74,0 Z M4.64,2.25 L1.31,5.80" stroke-width="1.85"/><path transform="translate(165.40,544.70) translate(-1.50,-2.95)" d="M1.50,0 L1.50,5.90 M0.00,5.90 L3.00,5.90 M1.50,0 L0.00,1.06" stroke-width="1.8"/><path transform="translate(233.80,547.40) translate(-1.50,-4.05)" d="M1.50,0 L1.50,8.10 M0.00,8.10 L3.00,8.10 M1.50,0 L0.00,1.46" stroke-width="2.0"/><path transform="translate(243.00,547.40) translate(-2.97,-4.03)" d="M2.74,0 L3.21,0 C4.72,0 5.95,1.23 5.95,2.74 L5.95,5.31 C5.95,6.82 4.72,8.05 3.21,8.05 L2.74,8.05 C1.23,8.05 0,6.82 0,5.31 L0,2.74 C0,1.23 1.23,0 2.74,0 Z M4.64,2.25 L1.31,5.80" stroke-width="1.85"/><path transform="translate(252.10,544.70) translate(-2.20,-2.95)" d="M0.09,1.48 C0.22,-0.30 4.31,-0.30 4.18,1.77 C4.05,3.25 0.88,4.13 0.00,5.90 L4.40,5.90" stroke-width="1.8"/></g></g>
<g transform="rotate(0.15 305.25 535.4)"><path d="M305.5,535.4 L305.5,530.2 H306.7 V524.7 H308.0 V531.4 H309.2 V524.9 H310.5 V526.4 H311.7 V523.6 H313.0 V527.1 H314.2 V522.3 H315.5 V525.2 H316.7 V523.1 H318.0 V525.2 H319.2 V519.6 H320.5 V518.2 H321.7 V512.6 H323.0 V515.8 H324.2 V512.1 H325.5 V513.7 H326.7 V510.7 H328.0 V511.9 H329.2 V509.8 H330.5 V511.9 H331.7 V508.7 H333.0 V508.4 H334.2 V505.6 H335.5 V506.4 H336.7 V501.6 H338.0 V500.6 H339.2 V498.0 H340.5 V499.4 H341.7 V492.9 H343.0 V486.7 H344.2 V475.0 H345.5 V475.6 H346.7 V471.5 H348.0 V469.8 H349.2 V465.3 H350.5 V463.2 H351.7 V457.7 H353.0 V457.2 H354.2 V446.4 H355.5 V449.0 H356.7 V441.8 H358.0 V438.5 H359.2 V433.3 H360.5 V433.6 H361.7 V431.9 H363.0 V434.3 H364.2 V429.0 H365.5 V424.6 H366.7 V417.1 H368.0 V411.8 H369.2 V404.2 H370.5 V400.9 H371.7 V393.9 H373.0 V392.7 H374.2 V386.0 H375.5 V383.4 H376.7 V379.9 H378.0 V380.9 H379.2 V375.8 H380.5 V378.3 H381.7 V378.9 H383.0 V379.5 H384.2 V377.1 H385.5 V383.5 H386.7 V386.3 H388.0 V390.0 H389.2 V388.7 H390.5 V422.8 H391.7 V420.5 H393.0 V425.2 H394.2 V427.8 H395.5 V436.9 H396.7 V443.8 H398.0 V455.1 H399.2 V464.1 H400.5 V474.8 H401.7 V485.1 H403.0 V494.6 H404.2 V498.0 H405.5 V502.5 H406.7 V505.3 H408.0 V508.9 H409.2 V510.3 H410.5 V517.6 H411.7 V513.2 H413.0 V515.9 H414.2 V513.1 H415.5 V516.4 H416.7 V516.8 H418.0 V518.2 H419.2 V516.1 H420.5 V519.1 H421.7 V519.7 H423.0 V522.0 H424.2 V520.9 H425.5 V522.7 H426.7 V522.0 H428.0 V525.9 H429.2 V524.2 H430.5 V526.2 H431.7 V526.1 H433.0 V528.4 H434.2 V526.5 H435.5 V527.3 H436.7 V527.1 H438.0 V527.7 H439.2 V526.5 H440.5 V527.5 H441.7 V526.0 H443.0 V528.9 H444.2 V527.7 H445.5 V529.8 H446.7 V527.2 H448.0 V530.9 H449.2 V529.4 H450.5 V530.0 H451.7 V529.7 H453.0 V530.6 H454.2 V528.6 H455.5 V532.7 H456.7 V528.7 H458.0 V531.8 H459.2 V528.1 H460.5 V532.4 H461.7 V528.2 H463.0 V531.9 H464.2 V529.0 H465.5 V531.7 H466.7 V530.6 H468.0 V531.1 H469.2 V529.2 H470.5 V532.7 H471.7 V525.9 H473.0 V531.3 H474.2 V529.8 H475.5 V531.7 H476.7 V529.8 H478.0 V531.4 H479.2 V531.4 H480.5 V533.4 H481.7 V530.6 H483.0 V532.9 H484.2 V530.1 H485.5 V532.4 H486.7 V530.0 H488.0 V533.2 H489.2 V531.9 H490.5 V532.8 H491.7 V532.0 H493.0 V533.0 H494.2 V531.4 H495.5 V533.3 H496.7 V532.3 H498.0 V533.7 H499.2 V533.2 H500.5 V533.5 H501.7 V532.0 H503.0 V534.7 H504.2 V533.3 H505.5 V533.8 H506.7 V533.0 H508.0 V534.7 H509.2 V533.3 H510.5 V535.4 H511.7 V532.8 H513.0 V535.2 H514.2 V532.5 H515.5 V535.4 Z" fill="#000"/><path d="M305.4,497.5 H306.7 V498.6 H308.0 V500.7 H309.3 V496.0 H310.6 V495.9 H311.9 V495.0 H313.2 V496.5 H314.5 V494.3 H315.8 V489.9 H317.1 V492.1 H318.4 V495.0 H319.7 V496.0 H321.0 V489.9 H322.3 V488.3 H323.6 V489.3 H324.9 V480.1 H326.2 V479.2 H327.5 V473.3 H328.8 V473.9 H330.1 V459.4 H331.4 V469.3 H332.7 V462.5 H334.0 V460.9 H335.3 V458.1 H336.6 V458.3 H337.9 V453.5 H339.2 V454.2 H340.5 V453.0 H341.8 V452.1 H343.1 V445.7 H344.4 V431.6 H345.7 V422.9 H347.0 V432.1 H348.3 V437.3 H349.6 V428.4 H350.9 V416.5 H352.2 V418.0 H353.5 V415.7 H354.8 V413.8 H356.1 V409.5 H357.4 V418.6 H358.7 V415.8 H360.0 V416.3 H361.3 V420.5 H362.6 V430.1 H363.9 V422.9 H365.2 V413.7 H366.5 V408.2 H367.8 V407.0 H369.1" fill="none" stroke="#000" stroke-width="2.0"/><line x1="305.25" y1="372.5" x2="305.25" y2="541.4" stroke="#000" stroke-width="2.1"/><line x1="298.75" y1="535.25" x2="519" y2="535.25" stroke="#000" stroke-width="2.6"/><line x1="303.45" y1="519.2" x2="305.25" y2="519.2" stroke="#000" stroke-width="1.7"/><line x1="303.45" y1="503.0" x2="305.25" y2="503.0" stroke="#000" stroke-width="1.7"/><line x1="303.45" y1="486.8" x2="305.25" y2="486.8" stroke="#000" stroke-width="1.7"/><line x1="303.45" y1="470.6" x2="305.25" y2="470.6" stroke="#000" stroke-width="1.7"/><line x1="298.75" y1="454.4" x2="305.25" y2="454.4" stroke="#000" stroke-width="1.7"/><line x1="303.45" y1="438.3" x2="305.25" y2="438.3" stroke="#000" stroke-width="1.7"/><line x1="303.45" y1="422.1" x2="305.25" y2="422.1" stroke="#000" stroke-width="1.7"/><line x1="303.45" y1="405.9" x2="305.25" y2="405.9" stroke="#000" stroke-width="1.7"/><line x1="303.45" y1="389.7" x2="305.25" y2="389.7" stroke="#000" stroke-width="1.7"/><line x1="298.75" y1="373.5" x2="305.25" y2="373.5" stroke="#000" stroke-width="1.7"/><line x1="331.1" y1="535.4" x2="331.1" y2="539.3" stroke="#000" stroke-width="1.7"/><line x1="346.3" y1="535.4" x2="346.3" y2="539.3" stroke="#000" stroke-width="1.7"/><line x1="357.0" y1="535.4" x2="357.0" y2="539.3" stroke="#000" stroke-width="1.7"/><line x1="365.4" y1="535.4" x2="365.4" y2="539.3" stroke="#000" stroke-width="1.7"/><line x1="372.2" y1="535.4" x2="372.2" y2="539.3" stroke="#000" stroke-width="1.7"/><line x1="377.9" y1="535.4" x2="377.9" y2="539.3" stroke="#000" stroke-width="1.7"/><line x1="382.9" y1="535.4" x2="382.9" y2="539.3" stroke="#000" stroke-width="1.7"/><line x1="387.3" y1="535.4" x2="387.3" y2="539.3" stroke="#000" stroke-width="1.7"/><line x1="391.2" y1="535.4" x2="391.2" y2="542.9" stroke="#000" stroke-width="1.8"/><line x1="417.3" y1="535.4" x2="417.3" y2="539.3" stroke="#000" stroke-width="1.7"/><line x1="432.6" y1="535.4" x2="432.6" y2="539.3" stroke="#000" stroke-width="1.7"/><line x1="443.4" y1="535.4" x2="443.4" y2="539.3" stroke="#000" stroke-width="1.7"/><line x1="451.9" y1="535.4" x2="451.9" y2="539.3" stroke="#000" stroke-width="1.7"/><line x1="458.7" y1="535.4" x2="458.7" y2="539.3" stroke="#000" stroke-width="1.7"/><line x1="464.5" y1="535.4" x2="464.5" y2="539.3" stroke="#000" stroke-width="1.7"/><line x1="469.5" y1="535.4" x2="469.5" y2="539.3" stroke="#000" stroke-width="1.7"/><line x1="474.0" y1="535.4" x2="474.0" y2="539.3" stroke="#000" stroke-width="1.7"/><line x1="477.9" y1="535.4" x2="477.9" y2="542.9" stroke="#000" stroke-width="1.8"/><line x1="504.0" y1="535.4" x2="504.0" y2="539.3" stroke="#000" stroke-width="1.7"/><g fill="none" stroke="#000" stroke-linecap="round" stroke-linejoin="round"><path transform="translate(292.85,387.50) rotate(-90) translate(-1.30,-4.60)" d="M1.30,0 L1.30,9.20 M0.00,9.20 L2.60,9.20 M1.30,0 L0.00,1.66" stroke-width="2.2"/><path transform="translate(292.85,378.30) rotate(-90) translate(-3.00,-4.80)" d="M2.76,0 L3.24,0 C4.76,0 6.00,1.24 6.00,2.76 L6.00,6.84 C6.00,8.36 4.76,9.60 3.24,9.60 L2.76,9.60 C1.24,9.60 0,8.36 0,6.84 L0,2.76 C0,1.24 1.24,0 2.76,0 Z M4.68,2.69 L1.32,6.91" stroke-width="2.2"/><path transform="translate(292.85,369.10) rotate(-90) translate(-3.00,-4.80)" d="M2.76,0 L3.24,0 C4.76,0 6.00,1.24 6.00,2.76 L6.00,6.84 C6.00,8.36 4.76,9.60 3.24,9.60 L2.76,9.60 C1.24,9.60 0,8.36 0,6.84 L0,2.76 C0,1.24 1.24,0 2.76,0 Z M4.68,2.69 L1.32,6.91" stroke-width="2.2"/><path transform="translate(292.85,459.05) rotate(-90) translate(-2.85,-4.70)" d="M5.42,0 L0.57,0 L0.29,3.95 C2.56,2.63 5.81,3.57 5.59,6.39 C5.42,9.59 1.43,9.59 0.00,7.99" stroke-width="2.2"/><path transform="translate(292.85,449.85) rotate(-90) translate(-3.00,-4.80)" d="M2.76,0 L3.24,0 C4.76,0 6.00,1.24 6.00,2.76 L6.00,6.84 C6.00,8.36 4.76,9.60 3.24,9.60 L2.76,9.60 C1.24,9.60 0,8.36 0,6.84 L0,2.76 C0,1.24 1.24,0 2.76,0 Z M4.68,2.69 L1.32,6.91" stroke-width="2.2"/><path transform="translate(292.85,535.40) rotate(-90) translate(-3.00,-4.80)" d="M2.76,0 L3.24,0 C4.76,0 6.00,1.24 6.00,2.76 L6.00,6.84 C6.00,8.36 4.76,9.60 3.24,9.60 L2.76,9.60 C1.24,9.60 0,8.36 0,6.84 L0,2.76 C0,1.24 1.24,0 2.76,0 Z M4.68,2.69 L1.32,6.91" stroke-width="2.2"/><path transform="translate(296.05,548.00) translate(-1.50,-4.05)" d="M1.50,0 L1.50,8.10 M0.00,8.10 L3.00,8.10 M1.50,0 L0.00,1.46" stroke-width="2.0"/><path transform="translate(305.25,548.00) translate(-2.97,-4.03)" d="M2.74,0 L3.21,0 C4.72,0 5.95,1.23 5.95,2.74 L5.95,5.31 C5.95,6.82 4.72,8.05 3.21,8.05 L2.74,8.05 C1.23,8.05 0,6.82 0,5.31 L0,2.74 C0,1.23 1.23,0 2.74,0 Z M4.64,2.25 L1.31,5.80" stroke-width="1.85"/><path transform="translate(314.35,545.30) translate(-2.20,-2.95)" d="M0.00,2.95 a2.20,2.95 0 1,0 4.40,0 a2.20,2.95 0 1,0 -4.40,0 Z " stroke-width="1.8"/><path transform="translate(382.05,548.00) translate(-1.50,-4.05)" d="M1.50,0 L1.50,8.10 M0.00,8.10 L3.00,8.10 M1.50,0 L0.00,1.46" stroke-width="2.0"/><path transform="translate(391.25,548.00) translate(-2.97,-4.03)" d="M2.74,0 L3.21,0 C4.72,0 5.95,1.23 5.95,2.74 L5.95,5.31 C5.95,6.82 4.72,8.05 3.21,8.05 L2.74,8.05 C1.23,8.05 0,6.82 0,5.31 L0,2.74 C0,1.23 1.23,0 2.74,0 Z M4.64,2.25 L1.31,5.80" stroke-width="1.85"/><path transform="translate(400.35,545.30) translate(-1.50,-2.95)" d="M1.50,0 L1.50,5.90 M0.00,5.90 L3.00,5.90 M1.50,0 L0.00,1.06" stroke-width="1.8"/><path transform="translate(468.75,548.00) translate(-1.50,-4.05)" d="M1.50,0 L1.50,8.10 M0.00,8.10 L3.00,8.10 M1.50,0 L0.00,1.46" stroke-width="2.0"/><path transform="translate(477.95,548.00) translate(-2.97,-4.03)" d="M2.74,0 L3.21,0 C4.72,0 5.95,1.23 5.95,2.74 L5.95,5.31 C5.95,6.82 4.72,8.05 3.21,8.05 L2.74,8.05 C1.23,8.05 0,6.82 0,5.31 L0,2.74 C0,1.23 1.23,0 2.74,0 Z M4.64,2.25 L1.31,5.80" stroke-width="1.85"/><path transform="translate(487.05,545.30) translate(-2.20,-2.95)" d="M0.09,1.48 C0.22,-0.30 4.31,-0.30 4.18,1.77 C4.05,3.25 0.88,4.13 0.00,5.90 L4.40,5.90" stroke-width="1.8"/></g></g>
</svg>
</body></html>
